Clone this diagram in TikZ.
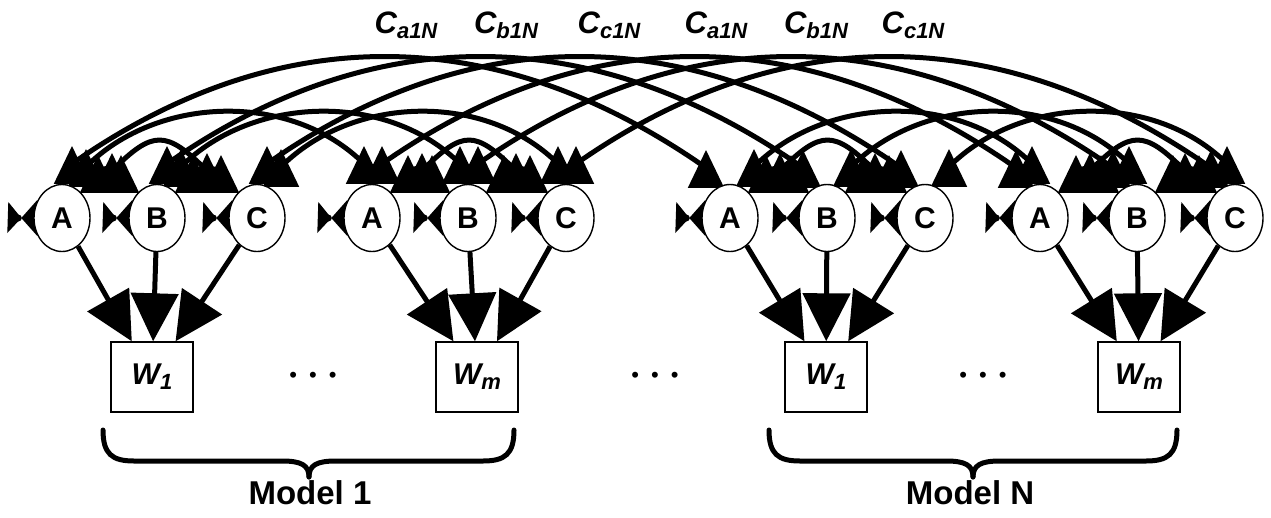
\documentclass[tikz,border=0pt]{standalone}
\usepackage{fontspec}
\setmainfont{Liberation Sans}
\usetikzlibrary{arrows.meta,shapes.geometric,calc}
\pgfdeclarelayer{bg}
\pgfsetlayers{bg,main}
\begin{document}
\begin{tikzpicture}[x=1pt,y=1pt,
  st/.style={ellipse, draw, line width=1.4pt, fill=white, minimum width=56pt, minimum height=67pt, inner sep=0pt, font=\fontsize{30}{32}\selectfont\bfseries},
  wbox/.style={rectangle, draw, line width=1.4pt, fill=white, minimum width=82pt, minimum height=70pt, inner sep=0pt, font=\fontsize{30}{32}\selectfont\bfseries\itshape},
  arcline/.style={line width=5pt, {Triangle[reversed,length=38pt,width=35pt]}-{Triangle[reversed,length=38pt,width=35pt]}},
  warr/.style={line width=5pt, -{Triangle[length=48pt,width=47pt]}},
  clab/.style={inner sep=0pt, font=\fontsize{31}{32}\selectfont\bfseries\itshape},
  mlab/.style={inner sep=0pt, font=\fontsize{33}{34}\selectfont\bfseries},
  dots/.style={inner sep=0pt, font=\fontsize{22}{22}\selectfont},
  brace/.style={line width=5pt, line cap=round},
  bow/.style={fill=black}
]
\useasboundingbox (0,0) rectangle (1271,-517);
% state nodes
\node[st] (A1) at (62,-218) {A};
\node[st] (B1) at (157,-218) {B};
\node[st] (C1) at (257,-218) {C};
\node[st] (A2) at (372,-218) {A};
\node[st] (B2) at (468,-218) {B};
\node[st] (C2) at (566,-218) {C};
\node[st] (A3) at (730,-218) {A};
\node[st] (B3) at (827,-218) {B};
\node[st] (C3) at (925,-218) {C};
\node[st] (A4) at (1040,-218) {A};
\node[st] (B4) at (1137,-218) {B};
\node[st] (C4) at (1235,-218) {C};
% W boxes
\node[wbox] (W1) at (152,-377) {W\raisebox{-5pt}{\fontsize{22}{22}\selectfont 1}};
\node[wbox] (W2) at (477,-377) {W\raisebox{-5pt}{\fontsize{22}{22}\selectfont m}};
\node[wbox] (W3) at (826,-377) {W\raisebox{-5pt}{\fontsize{22}{22}\selectfont 1}};
\node[wbox] (W4) at (1139,-377) {W\raisebox{-5pt}{\fontsize{22}{22}\selectfont m}};
% dots
\node[dots] (d1) at (313,-377) {•\hspace{12pt}•\hspace{12pt}•};
\node[dots] (d2) at (655,-377) {•\hspace{12pt}•\hspace{12pt}•};
\node[dots] (d3) at (983,-377) {•\hspace{12pt}•\hspace{12pt}•};
% coupling labels
\node[clab] (l1) at (406,-25) {C\raisebox{-5pt}{\fontsize{22}{22}\selectfont a1N}};
\node[clab] (l2) at (506,-25) {C\raisebox{-5pt}{\fontsize{22}{22}\selectfont b1N}};
\node[clab] (l3) at (609,-25) {C\raisebox{-5pt}{\fontsize{22}{22}\selectfont c1N}};
\node[clab] (l4) at (716,-25) {C\raisebox{-5pt}{\fontsize{22}{22}\selectfont a1N}};
\node[clab] (l5) at (816,-25) {C\raisebox{-5pt}{\fontsize{22}{22}\selectfont b1N}};
\node[clab] (l6) at (913,-25) {C\raisebox{-5pt}{\fontsize{22}{22}\selectfont c1N}};
% model labels
\node[mlab] (m1) at (310,-493) {Model 1};
\node[mlab] (mN) at (970,-493) {Model N};
\begin{pgfonlayer}{bg}
  % long couplings between models
  \foreach \a/\b in {A1/A3,B1/B3,C1/C3,A2/A4,B2/B4,C2/C4}
    \draw[arcline] ([xshift=10pt]\a.north) -- ++(0,20) to[out=35,in=145,distance=254pt] ($([xshift=-24pt,yshift=-4pt]\b.north)+(0,20)$) -- ([xshift=-24pt,yshift=-4pt]\b.north);
  % couplings within model
  \foreach \a/\b in {A1/A2,B1/B2,C1/C2,A3/A4,B3/B4,C3/C4}
    \draw[arcline] ([xshift=24pt,yshift=-3pt]\a.north) -- ++(0,20) to[out=45,in=135,distance=102pt] ($([xshift=-8pt]\b.north)+(0,20)$) -- ([xshift=-8pt]\b.north);
  % within group
  \foreach \a/\b in {A1/C1,A2/C2,A3/C3,A4/C4}
    \draw[arcline] ([xshift=50pt,yshift=-7pt]\a.north) -- ++(0,20) to[out=45,in=135,distance=58pt] ($([xshift=-50pt,yshift=-7pt]\b.north)+(0,20)$) -- ([xshift=-50pt,yshift=-7pt]\b.north);
  \foreach \a/\b in {A1/B1,B1/C1,A2/B2,B2/C2,A3/B3,B3/C3,A4/B4,B4/C4}
    \draw[arcline] ([xshift=36pt,yshift=-9pt]\a.north) -- ++(0,20) to[out=60,in=120,distance=7pt] ($([xshift=-36pt,yshift=-9pt]\b.north)+(0,20)$) -- ([xshift=-36pt,yshift=-9pt]\b.north);
  % self loops (bow ties)
  \foreach \n in {A1,B1,C1,A2,B2,C2,A3,B3,C3,A4,B4,C4}{
    \fill[bow] ([xshift=-25pt,yshift=16pt]\n.west) -- ([xshift=-26pt,yshift=-15pt]\n.west) -- ([xshift=-12pt]\n.west) -- cycle;
    \fill[bow] ([xshift=-12pt]\n.west) -- ([xshift=4pt,yshift=18pt]\n.west) -- ([xshift=4pt,yshift=-18pt]\n.west) -- cycle;
    \fill[bow] ([xshift=-15pt]\n.west) circle (3.5pt);
  }
  % observations
  \foreach \s/\w in {A1/W1,B1/W1,C1/W1,A2/W2,B2/W2,C2/W2,A3/W3,B3/W3,C3/W3,A4/W4,B4/W4,C4/W4}
    \draw[warr] (\s) -- (\w);
\end{pgfonlayer}
% braces
\draw[brace] (103,-430) .. controls (103,-454) and (112,-461) .. (134,-461) -- (282,-461) .. controls (301,-461) and (309,-465) .. (309,-477);
\draw[brace] (309,-477) .. controls (309,-465) and (317,-461) .. (336,-461) -- (483,-461) .. controls (505,-461) and (514,-454) .. (514,-430);
\draw[brace] (769,-430) .. controls (769,-454) and (778,-461) .. (800,-461) -- (946,-461) .. controls (965,-461) and (973,-465) .. (973,-477);
\draw[brace] (973,-477) .. controls (973,-465) and (981,-461) .. (1000,-461) -- (1146,-461) .. controls (1168,-461) and (1177,-454) .. (1177,-430);
\end{tikzpicture}
\end{document}
